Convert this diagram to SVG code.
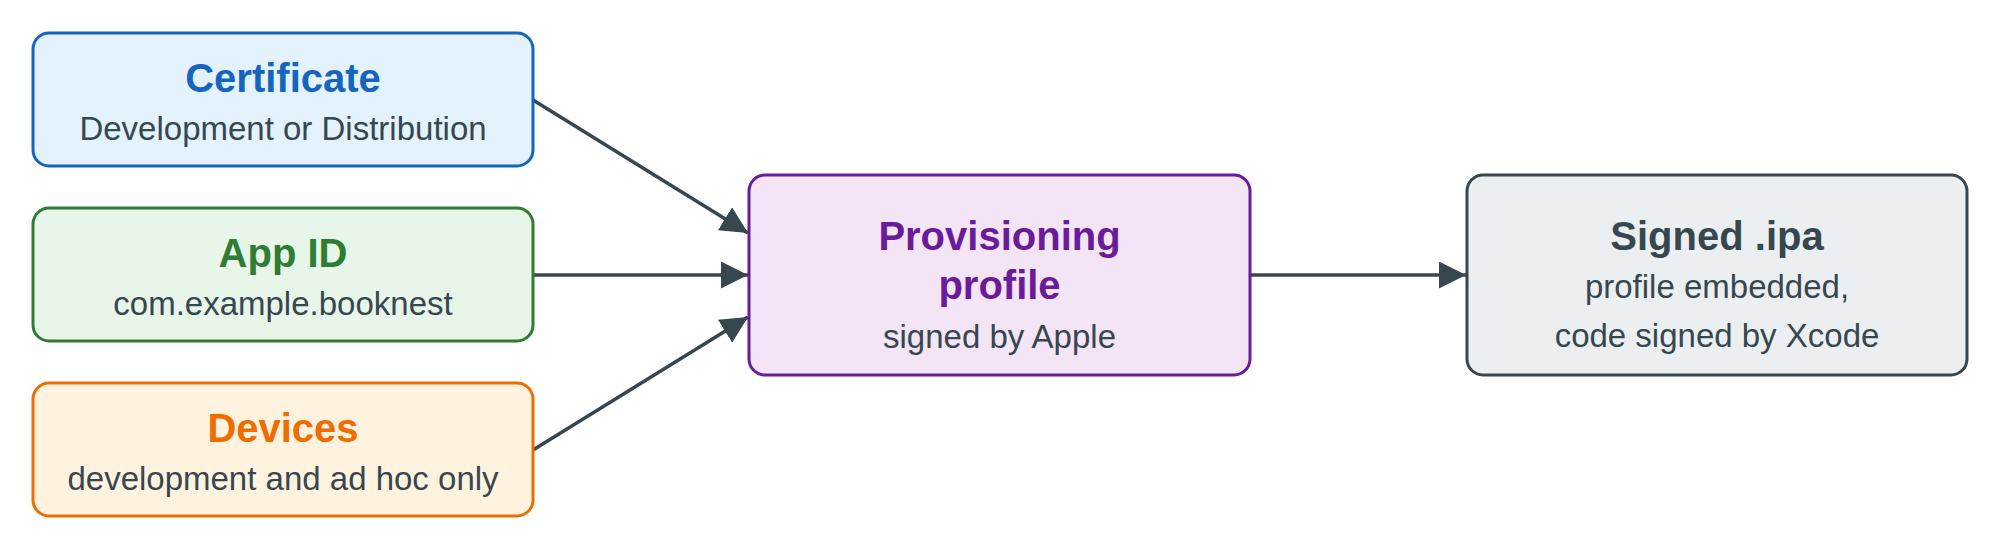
<svg xmlns="http://www.w3.org/2000/svg" width="2000" height="550" viewBox="0 0 2000 550">
  <style>
    .box { stroke-width: 3; }
    .title { font-family: "Liberation Sans", Arial, sans-serif; font-size: 40px; font-weight: bold; text-anchor: middle; }
    .sub { font-family: "Liberation Sans", Arial, sans-serif; font-size: 33px; fill: #37474F; text-anchor: middle; }
    .edge { stroke: #37474F; stroke-width: 3.5; fill: none; marker-end: url(#arrow); }
  </style>
  <defs>
    <marker id="arrow" viewBox="0 0 10 10" refX="10" refY="5" markerUnits="userSpaceOnUse" markerWidth="27" markerHeight="27" orient="auto">
      <path d="M0,0 L10,5 L0,10 z" fill="#37474F"/>
    </marker>
  </defs>
  <rect width="2000" height="550" fill="#FFFFFF"/>
  <g id="connectors">
    <line class="edge" x1="533" y1="100" x2="748" y2="233"/>
    <line class="edge" x1="533" y1="275" x2="748" y2="275"/>
    <line class="edge" x1="533" y1="450" x2="748" y2="317"/>
    <line class="edge" x1="1250" y1="275" x2="1466" y2="275"/>
  </g>
  <g id="certificate">
    <rect class="box" x="33" y="33" width="500" height="133" rx="16" fill="#E3F2FD" stroke="#1565C0"/>
    <text class="title" x="283" y="92" fill="#1565C0">Certificate</text>
    <text class="sub" x="283" y="140">Development or Distribution</text>
  </g>
  <g id="appid">
    <rect class="box" x="33" y="208" width="500" height="133" rx="16" fill="#E8F5E9" stroke="#2E7D32"/>
    <text class="title" x="283" y="267" fill="#2E7D32">App ID</text>
    <text class="sub" x="283" y="315">com.example.booknest</text>
  </g>
  <g id="devices">
    <rect class="box" x="33" y="383" width="500" height="133" rx="16" fill="#FFF3E0" stroke="#EF6C00"/>
    <text class="title" x="283" y="442" fill="#EF6C00">Devices</text>
    <text class="sub" x="283" y="490">development and ad hoc only</text>
  </g>
  <g id="provisioning">
    <rect class="box" x="749" y="175" width="501" height="200" rx="16" fill="#F3E5F5" stroke="#6A1B9A"/>
    <text class="title" x="999.5" y="250" fill="#6A1B9A">Provisioning</text>
    <text class="title" x="999.5" y="299" fill="#6A1B9A">profile</text>
    <text class="sub" x="999.5" y="348">signed by Apple</text>
  </g>
  <g id="signed">
    <rect class="box" x="1467" y="175" width="500" height="200" rx="16" fill="#ECEFF1" stroke="#37474F"/>
    <text class="title" x="1717" y="250" fill="#37474F">Signed .ipa</text>
    <text class="sub" x="1717" y="298">profile embedded,</text>
    <text class="sub" x="1717" y="347">code signed by Xcode</text>
  </g>
</svg>
